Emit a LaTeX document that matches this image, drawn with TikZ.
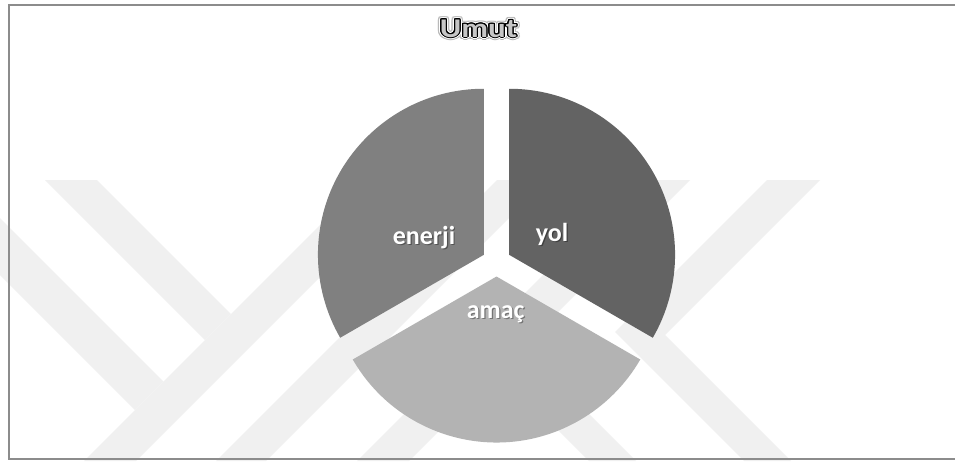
\documentclass[tikz,border=0pt]{standalone}
\usepackage{fontspec}
\setmainfont{Carlito}
\usepackage[copies]{contour}
\usepackage{graphicx}
\definecolor{wmc}{gray}{0.94}
\definecolor{yolc}{RGB}{99,99,99}
\definecolor{enerjic}{RGB}{128,128,128}
\definecolor{amacc}{RGB}{179,179,179}
\definecolor{framec}{RGB}{140,140,140}
\newcommand{\umuttitle}{%
  \rlap{\contourlength{3.0pt}\contour{gray!55}{\textcolor{white}{Umut}}}%
  \rlap{\contourlength{2.0pt}\contour{white}{\textcolor{black}{Umut}}}%
  {\contourlength{1.0pt}\contour{black}{\textcolor{gray!45}{Umut}}}}
\begin{document}
\begin{tikzpicture}[x=1pt,y=-1pt,
  wmband/.style={fill=wmc,draw=none},
  slicefill/.style={draw=none},
  lbltext/.style={anchor=base,inner sep=0pt,text=white,font=\fontsize{26}{28}\selectfont\bfseries},
  lblshadow/.style={anchor=base,inner sep=0pt,text=black,opacity=0.35,font=\fontsize{26}{28}\selectfont\bfseries},
  titletext/.style={anchor=base,inner sep=0pt,font=\fontsize{27}{29}\selectfont\bfseries}]
\useasboundingbox (0,0) rectangle (955,461);
\fill[white] (0,0) rectangle (955,461);
% watermark
\begin{scope}
\clip (0,180) rectangle (955,461);
\fill[wmband] (45,180) -- (97,180) -- (231,314) -- (205,340) -- cycle;
\fill[wmband] (-50,168) -- (163.5,381.5) -- (135,410) -- (-50,225) -- cycle;
\fill[wmband] (84,461) -- (365,180) -- (417,180) -- (136,461) -- cycle;
\fill[wmband] (216,461) -- (497,180) -- (547,180) -- (266,461) -- cycle;
\fill[wmband] (357,461) -- (638,180) -- (690,180) -- (409,461) -- cycle;
\fill[wmband] (767,180) -- (615,332) -- (744,461) -- (791,461) -- (665,335) -- (820,180) -- cycle;
\fill[wmband] (508,380) -- (555,380) -- (636,461) -- (589,461) -- cycle;
\end{scope}
% frame
\draw[framec,line width=1.8pt] (960,4.8) -- (9.3,4.8) -- (9.3,459.3) -- (960,459.3);
% pie
\begin{scope}[shift={(496.5,262)},yscale=-1]
  \fill[yolc,slicefill] (30:14.5) -- ++(90:166) arc[start angle=90,end angle=-30,radius=166] -- cycle;
  \fill[enerjic,slicefill] (150:14.5) -- ++(90:166) arc[start angle=90,end angle=210,radius=166] -- cycle;
  \fill[amacc,slicefill] (270:14.5) -- ++(210:166) arc[start angle=210,end angle=330,radius=166] -- cycle;
\end{scope}
% labels
\node[lblshadow] (enerjis) at (425.2,245.5) {enerji};
\node[lbltext] (enerji) at (424,244.3) {enerji};
\node[lblshadow] (yols) at (553.2,242.2) {yol};
\node[lbltext] (yol) at (552,241) {yol};
\node[lblshadow] (amacs) at (496.9,319.2) {amaç};
\node[lbltext] (amac) at (495.7,318) {amaç};
% title
\node[titletext] (title) at (478.5,37) {\scalebox{1.22}[1]{\umuttitle}};
\end{tikzpicture}
\end{document}
